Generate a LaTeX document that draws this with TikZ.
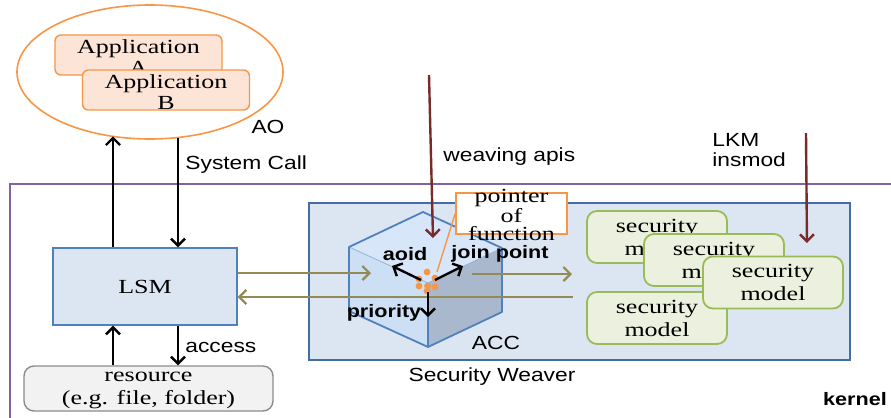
\documentclass[tikz,border=0pt]{standalone}
\usepackage{fontspec}
\setmainfont{Liberation Serif}[FakeStretch=1.3]
\setsansfont{Liberation Sans}[FakeStretch=1.2]
\usetikzlibrary{arrows.meta,shapes.geometric}

\definecolor{boxblue}{HTML}{DCE6F2}
\definecolor{lineblue}{HTML}{4F81BD}
\definecolor{aoorange}{HTML}{F79646}
\definecolor{appfill}{HTML}{FCE4D6}
\definecolor{smfill}{HTML}{EBF1DE}
\definecolor{smline}{HTML}{9BBB59}
\definecolor{resfill}{HTML}{F2F2F2}
\definecolor{resline}{HTML}{8C8C8C}
\definecolor{kernline}{HTML}{8064A2}
\definecolor{flowline}{HTML}{948A54}
\definecolor{apiline}{HTML}{772B2B}
\definecolor{cubetop}{HTML}{D7E6F8}
\definecolor{cubeleft}{HTML}{CCDFF4}
\definecolor{cuberight}{HTML}{A9B8CD}

\tikzset{
  serif/.style={font=\rmfamily\fontsize{10}{11.5}\selectfont, align=center, inner sep=0pt},
  sflabel/.style={font=\sffamily\fontsize{9.5}{10}\selectfont, inner sep=0pt},
  bflabel/.style={font=\sffamily\bfseries\fontsize{9}{10}\selectfont, inner sep=0pt},
  aoshape/.style={ellipse, draw=aoorange, fill=white, line width=0.8pt,
    minimum width=133pt, minimum height=67pt, inner sep=0pt, outer sep=0pt},
  appbox/.style={draw=aoorange, fill=appfill, rounded corners=3pt, line width=0.7pt,
    minimum width=83.5pt, minimum height=20pt, inner sep=0pt},
  lsmbox/.style={serif, draw=lineblue, fill=boxblue, line width=0.7pt,
    minimum width=92pt, minimum height=38.5pt},
  resbox/.style={serif, draw=resline, fill=resfill, rounded corners=5pt, line width=0.7pt,
    minimum width=124.5pt, minimum height=22.5pt},
  weaverbox/.style={draw=lineblue!85!black, fill=boxblue, line width=0.9pt,
    minimum width=270.5pt, minimum height=78.5pt, inner sep=0pt},
  ptrbox/.style={draw=aoorange, fill=white, line width=0.8pt,
    minimum width=55.5pt, minimum height=20.5pt, inner sep=0pt},
  smbox/.style={serif, draw=smline, fill=smfill, rounded corners=5pt, line width=0.9pt,
    minimum width=70pt, minimum height=26pt},
  callarrow/.style={line width=1.2pt, -{Straight Barb[length=3.5pt,width=7pt]}},
  flow/.style={flowline, line width=1.1pt, -{Straight Barb[length=3.5pt,width=7pt]}},
  api/.style={apiline, line width=1.2pt, -{Straight Barb[length=3.5pt,width=7pt]}},
  dot/.style={fill=aoorange}
}

\begin{document}
\begin{tikzpicture}[x=0.5pt, y=-0.5pt]
\useasboundingbox (0,0) rectangle (891,418);
\clip (0,0) rectangle (891,418);

\draw[kernline, line width=1pt] (10,430) |- (900,184);
\node[bflabel] (kern) at (855,399) {kernel};

% applications
\node[aoshape] (ao) at (150,72) {};
\node[appbox] (appA) at (138.5,55) {};
\node[serif] (appAtxt) at (138.5,57) {Application\\[-1pt]A};
\node[appbox] (appB) at (166,90) {};
\node[serif] (appBtxt) at (166,92) {Application\\[-1pt]B};
\node[sflabel] (aolbl) at (268,127) {AO};

% LSM and resource
\node[lsmbox] (lsm) at (145,286.5) {LSM};
\node[resbox] (res) at (148.5,388.5) {};
\node[serif] (restxt) at (148.5,390) {resource\\(e.g. file, folder)};

\draw[callarrow] ([xshift=-16pt]lsm.north) -- ([xshift=-16pt]lsm.north |- ao.240);
\draw[callarrow] ([xshift=16.5pt]lsm.north |- ao.293) -- ([xshift=16.5pt]lsm.north);
\node[sflabel, anchor=west] (syscall) at (185,165) {System Call};

\draw[callarrow] ([xshift=-16pt]lsm.south |- res.north) -- ([xshift=-16pt]lsm.south);
\draw[callarrow] ([xshift=16.5pt]lsm.south) -- ([xshift=16.5pt]lsm.south |- res.north);
\node[sflabel, anchor=west] (acclbl) at (185,347) {access};

% security weaver
\node[weaverbox] (weaver) at (579.5,281.5) {};
\node[sflabel] (weaverlbl) at (492,377) {Security Weaver};
\node[sflabel] (acc) at (496,343) {ACC};

% ACC cube
\coordinate (ct) at (423,212);
\coordinate (cl) at (349,247);
\coordinate (cr) at (502,248);
\coordinate (cc) at (428,283);
\coordinate (cb) at (428,347);
\coordinate (cbl) at (349,311);
\coordinate (cbr) at (502,312);
\fill[cubetop] (ct) -- (cl) -- (cc) -- (cr) -- cycle;
\fill[cubeleft] (cl) -- (cbl) -- (cb) -- (cc) -- cycle;
\fill[cuberight] (cc) -- (cb) -- (cbr) -- (cr) -- cycle;
\draw[lineblue!60, line width=0.4pt] (cl) -- (cc) -- (cr);
\draw[lineblue, line width=0.9pt] (cc) -- (cb);
\draw[lineblue, line width=0.9pt, line join=round] (ct) -- (cl) -- (cbl) -- (cb) -- (cbr) -- (cr) -- cycle;

% pointer of function
\node[ptrbox] (ptr) at (511.5,213.5) {};
\node[serif, font=\rmfamily\fontsize{10}{8.75}\selectfont] (ptrtxt) at (511.5,215) {pointer\\of\\function};
\draw[aoorange, line width=0.7pt] (437,272) -- (ptr.west);

% security models
\node[smbox] (sm1) at (657,237) {security\\model};
\node[smbox] (sm2) at (714,260) {security\\model};
\node[smbox] (sm4) at (657,318) {security\\model};
\node[smbox] (sm3) at (773,282.5) {security\\model};

% flows between LSM, ACC and the models
\coordinate (accin) at (371,273);
\coordinate (accout) at (472,274);
\coordinate (smin) at (572,274);
\coordinate (smback) at (573,297);
\draw[flow] (lsm.east |- accin) -- (accin);
\draw[flow] (accout) -- (smin);
\draw[flow] (smback) -- (lsm.east |- smback);

% join point
\foreach \px/\py in {427/272, 419/279, 435/278, 419/286, 427.5/286, 435/287, 427/291}
  \fill[dot] (\px,\py) circle (1.7pt);
\coordinate (aoidtip) at (392,266);
\coordinate (jptip) at (463,266);
\coordinate (priotip) at (428,317);
\draw[callarrow] (421,280) -- (aoidtip);
\draw[callarrow] (435,280) -- (jptip);
\draw[callarrow] (428,292) -- (priotip);
\node[bflabel] (aoid) at (405,254) {aoid};
\node[bflabel] (jp) at (500,254) {join point};
\node[bflabel] (prio) at (384,313) {priority};

% weaving apis and insmod
\coordinate (apitop) at (429,75);
\coordinate (apitip) at (433,238);
\draw[api] (apitop) -- (apitip);
\node[sflabel, anchor=west] (apilbl) at (443,157) {weaving apis};
\coordinate (lkmtop) at (806,133);
\coordinate (lkmtip) at (807,243);
\draw[api] (lkmtop) -- (lkmtip);
\node[sflabel, anchor=west, align=left] (lkmlbl) at (712,150) {LKM\\insmod};

\end{tikzpicture}
\end{document}
